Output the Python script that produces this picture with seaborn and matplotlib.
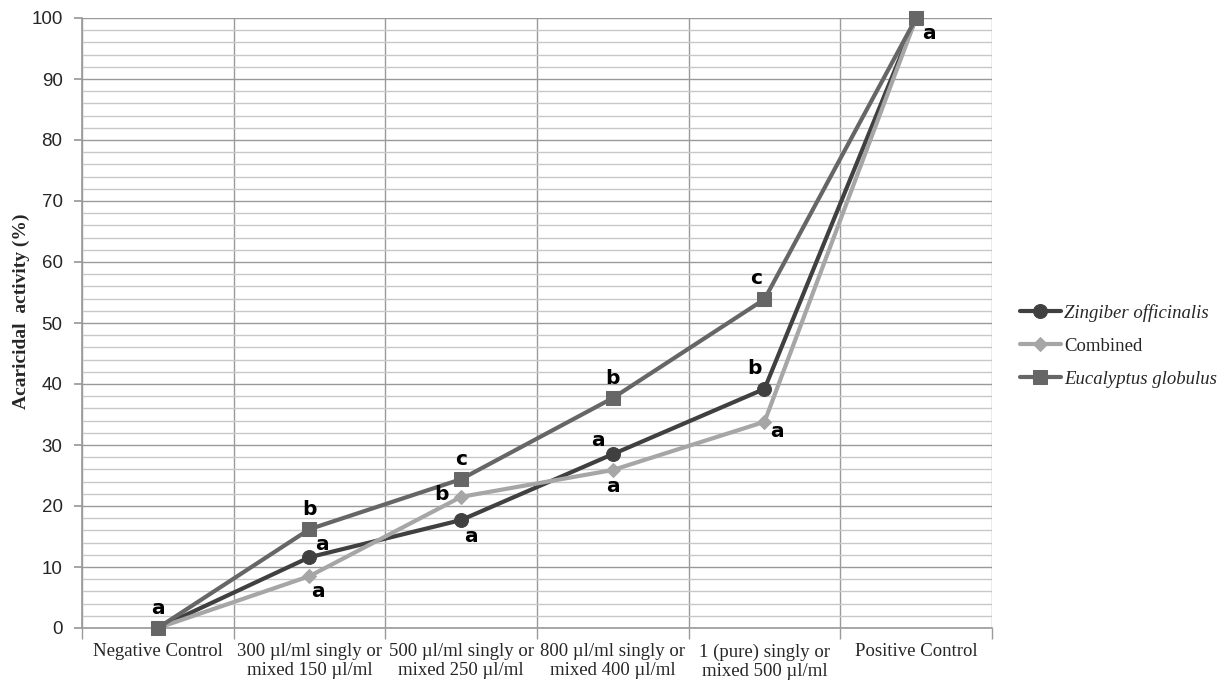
import matplotlib
matplotlib.use("Agg")
import matplotlib.pyplot as plt
import seaborn as sns
import pandas as pd
import numpy as np
from matplotlib.ticker import MultipleLocator, FixedLocator

categories = ["Negative Control", "300 µl/ml singly or\nmixed 150 µl/ml",
              "500 µl/ml singly or\nmixed 250 µl/ml", "800 µl/ml singly or\nmixed 400 µl/ml",
              "1 (pure) singly or\nmixed 500 µl/ml", "Positive Control"]
zingiber = [0, 11.6, 17.7, 28.5, 39.2, 100]
combined = [0, 8.5, 21.5, 25.9, 33.8, 100]
eucalyptus = [0, 16.2, 24.4, 37.7, 53.9, 100]
series_names = ["Zingiber officinalis", "Combined", "Eucalyptus globulus"]

zing_letters = ["", "a", "a", "a", "b", ""]
comb_letters = ["", "a", "b", "a", "a", ""]
euc_letters = ["a", "b", "c", "b", "c", "a"]

sns.set_theme(style="white")
plt.rcParams['font.family'] = ['DejaVu Sans']

rows = []
for name, vals in zip(series_names, [zingiber, combined, eucalyptus]):
    for i, v in enumerate(vals):
        rows.append({"x": i, "y": v, "series": name})
df = pd.DataFrame(rows)

palette = {"Zingiber officinalis": "#404040", "Combined": "#a6a6a6", "Eucalyptus globulus": "#666666"}
markers = {"Zingiber officinalis": "o", "Combined": "D", "Eucalyptus globulus": "s"}
msizes = {"Zingiber officinalis": 10, "Combined": 7, "Eucalyptus globulus": 10}

fig = plt.figure(figsize=(12.27, 6.86), dpi=100)
ax = fig.add_axes([82/1227, 1-628/686, (992-82)/1227, (628-18)/686])

for name in series_names:
    sub = df[df["series"] == name]
    sns.lineplot(data=sub, x="x", y="y", color=palette[name], marker=markers[name],
                 markersize=msizes[name], markeredgecolor=palette[name], linewidth=3,
                 ax=ax, label=name, zorder=3, clip_on=False)

ax.set_xlim(-0.5, 5.5)
ax.set_ylim(0, 100)
ax.yaxis.set_major_locator(MultipleLocator(10))
ax.yaxis.set_minor_locator(MultipleLocator(2))
ax.grid(which="minor", axis="y", color="#c8c8c8", linewidth=1)
ax.grid(which="major", axis="y", color="#9a9a9a", linewidth=1)
ax.xaxis.set_major_locator(FixedLocator(range(6)))
ax.xaxis.set_minor_locator(FixedLocator(np.arange(-0.5, 6, 1)))
ax.grid(which="minor", axis="x", color="#9a9a9a", linewidth=1)
ax.set_axisbelow(True)
for s in ["top", "right"]:
    ax.spines[s].set_visible(False)
ax.spines["left"].set_color("#9a9a9a")
ax.spines["bottom"].set_color("#9a9a9a")
ax.spines["left"].set_linewidth(1.2)
ax.spines["bottom"].set_linewidth(1.2)

ax.set_xticks(range(6))
ax.set_xticklabels(categories, fontsize=13.5, family="Liberation Serif", linespacing=1.15)
ax.tick_params(axis="x", which="major", length=0, pad=11)
ax.tick_params(axis="x", which="minor", length=8, color="#9a9a9a", bottom=True)
ax.tick_params(axis="y", which="major", length=6, color="#9a9a9a", labelsize=13.5, left=True, pad=8)
ax.tick_params(axis="y", which="minor", length=0)
for lab in ax.get_yticklabels():
    lab.set_family("Liberation Sans")
ax.set_xlabel("")
ax.set_ylabel("Acaricidal  activity (%)", family="Liberation Serif", fontweight="bold",
              fontsize=14)
ax.yaxis.set_label_coords(-0.057, 0.52)

# letter annotations (offsets in points)
lk = dict(fontsize=14.5, fontweight="bold", family="DejaVu Sans", color="black",
          ha="center", va="center", textcoords="offset points", annotation_clip=False)
zing_off = [(0, 0), (9, 9), (7, -12), (-11, 10), (-7, 15), (0, 0)]
comb_off = [(0, 0), (6, -11), (-14, 2), (0, -12), (9, -7), (0, 0)]
euc_off = [(0, 14), (0, 14), (0, 14), (0, 14), (-6, 15), (9, -11)]
for i in range(6):
    if zing_letters[i]:
        ax.annotate(zing_letters[i], (i, zingiber[i]), xytext=zing_off[i], **lk)
    if comb_letters[i]:
        ax.annotate(comb_letters[i], (i, combined[i]), xytext=comb_off[i], **lk)
    if euc_letters[i]:
        ax.annotate(euc_letters[i], (i, eucalyptus[i]), xytext=euc_off[i], **lk)

handles, labels = ax.get_legend_handles_labels()
if ax.legend_:
    ax.legend_.remove()
leg = fig.legend(handles, labels, loc="center left", bbox_to_anchor=(1012/1227, 1-346/686),
                 frameon=False, prop={"family": "Liberation Serif", "size": 13.5},
                 handlelength=2.2, handletextpad=0.2, labelspacing=0.85, borderaxespad=0)
for t in leg.get_texts():
    if t.get_text() != "Combined":
        t.set_style("italic")

fig.savefig("out.png", dpi=100)
